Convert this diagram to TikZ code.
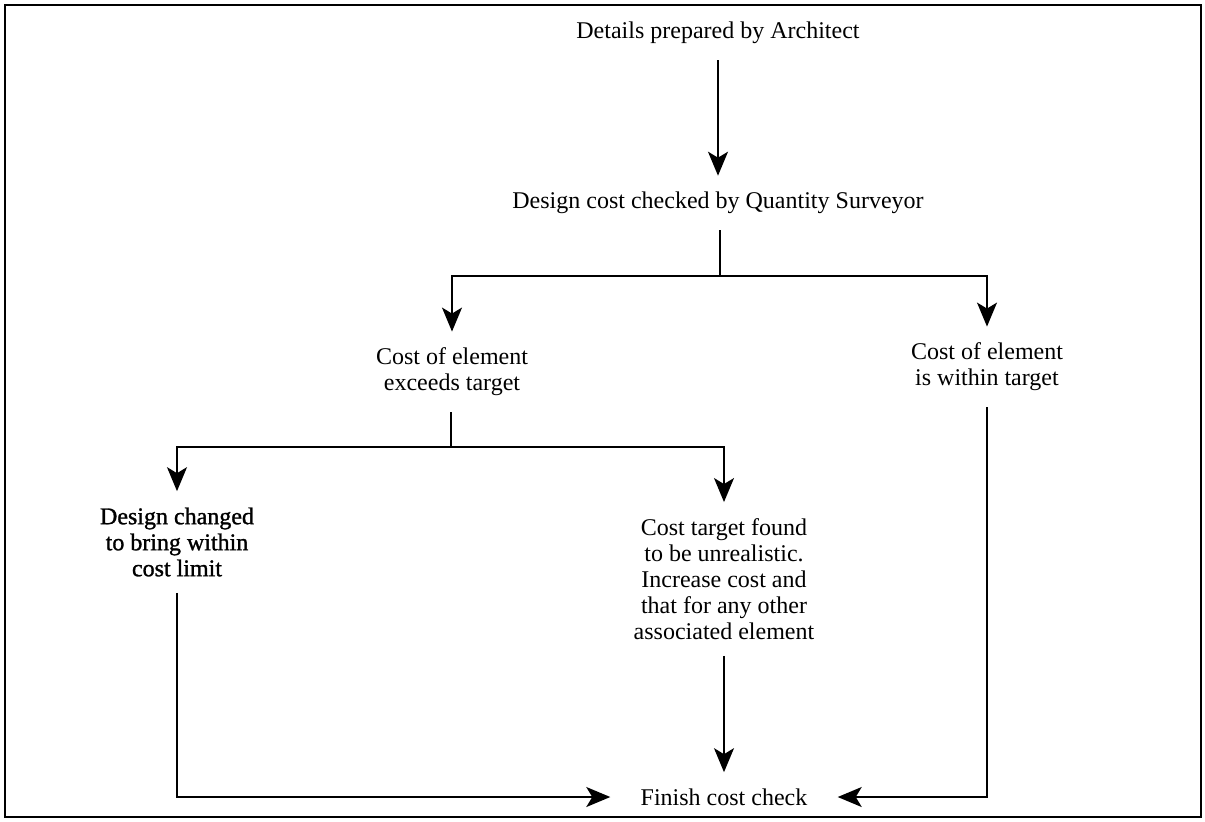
\documentclass[tikz,border=0pt]{standalone}
\usepackage{fontspec}
\setmainfont{Liberation Serif}
\newfontfamily\heavyserif[FakeBold=1.2]{Liberation Serif}
\usetikzlibrary{arrows.meta}
\begin{document}
\begin{tikzpicture}[x=0.5pt,y=-0.5pt,
  every node/.style={font=\fontsize{12}{13}\selectfont, align=center, inner xsep=4pt, inner ysep=8pt},
  conn/.style={line width=0.8pt},
  arr/.style={conn, -{Stealth[length=12pt,width=10pt,inset=3pt]}},
  heavy/.style={font=\heavyserif\fontsize{12}{13}\selectfont}]
\useasboundingbox (0,0) rectangle (1205,821);
\draw[line width=0.9pt] (5,5) rectangle (1201,817);

% steps of the cost check
\node (det) at (718,33) {Details prepared by Architect};
\node (dcs) at (718,203) {Design cost checked by Quantity Surveyor};
\node (exc) at (452,372) {Cost of element\\exceeds target};
\node (win) at (987,367) {Cost of element\\is within target};
\node[heavy] (dch) at (177,542) {Design changed\\to bring within\\cost limit};
\node (ctf) at (724,579) {Cost target found\\to be unrealistic.\\Increase cost and\\that for any other\\associated element};
\node[inner xsep=15pt] (fin) at (724,797) {Finish cost check};

% branch points
\coordinate (b1) at (720,276);
\coordinate (b2) at (451,447);

% connectors
\draw[arr] (det) -- (dcs);
\draw[conn] (dcs.south -| b1) -- (b1);
\draw[arr] (b1) -| (exc);
\draw[arr] (b1) -| (win);
\draw[conn] (exc.south -| b2) -- (b2);
\draw[arr] (b2) -| (dch);
\draw[arr] (b2) -| (ctf);
\draw[arr] (dch) |- (fin);
\draw[arr] (ctf) -- (fin);
\draw[arr] (win) |- (fin);
\end{tikzpicture}
\end{document}
